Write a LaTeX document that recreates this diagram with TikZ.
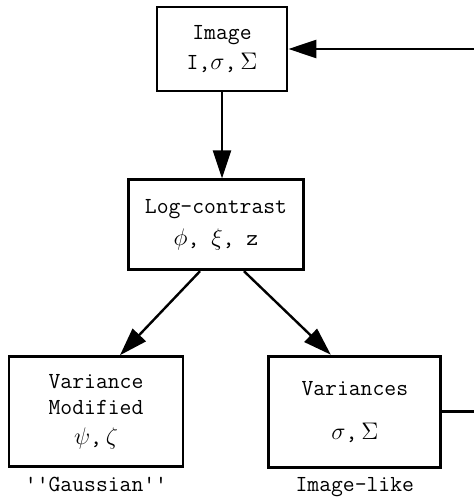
\documentclass[tikz,border=0pt]{standalone}
\usetikzlibrary{arrows.meta, positioning}

\begin{document}
\begin{tikzpicture}[
    every node/.style={align=center, font=\ttfamily\fontsize{11.5}{13}\selectfont},
    box/.style={draw, line width=1.4pt, inner sep=0pt},
    arrow/.style={-{Triangle[length=14pt, width=9pt]}, line width=1.2pt}
]
\useasboundingbox (0,0) rectangle (237pt,-248.5pt);

\node[box, minimum width=65pt, minimum height=42pt] (image) at (111pt,-24.5pt) {Image\\[2pt] I,$\sigma$,\,$\Sigma$};
\node[box, below=43pt of image, xshift=-3pt, minimum width=87.5pt, minimum height=45pt] (log) {Log-contrast\\[3pt] $\phi$, $\xi$, z};
\node[box, below=42pt of log, xshift=-60pt, minimum width=87pt, minimum height=55pt] (modified) {Variance\\Modified\\[2pt] $\psi$,\,$\zeta$};
\node[box, right=41.5pt of modified, minimum width=86pt, minimum height=55.5pt] (variances) {Variances\\[9pt] $\sigma$,\,$\Sigma$};
\node[below=1pt of modified] (gauss) {''Gaussian''};
\node[below=1pt of variances] (imglike) {Image-like};
\coordinate (back) at ([xshift=17.5pt]variances.east);

\draw[arrow] (image.south) -- (image.south |- log.north);
\draw[arrow] ([xshift=-8pt]log.south) -- ([xshift=12pt]modified.north);
\draw[arrow] ([xshift=14pt]log.south) -- ([xshift=-12pt]variances.north);
\draw[arrow] (variances.east) -- (back) |- (image.east);
\end{tikzpicture}
\end{document}
